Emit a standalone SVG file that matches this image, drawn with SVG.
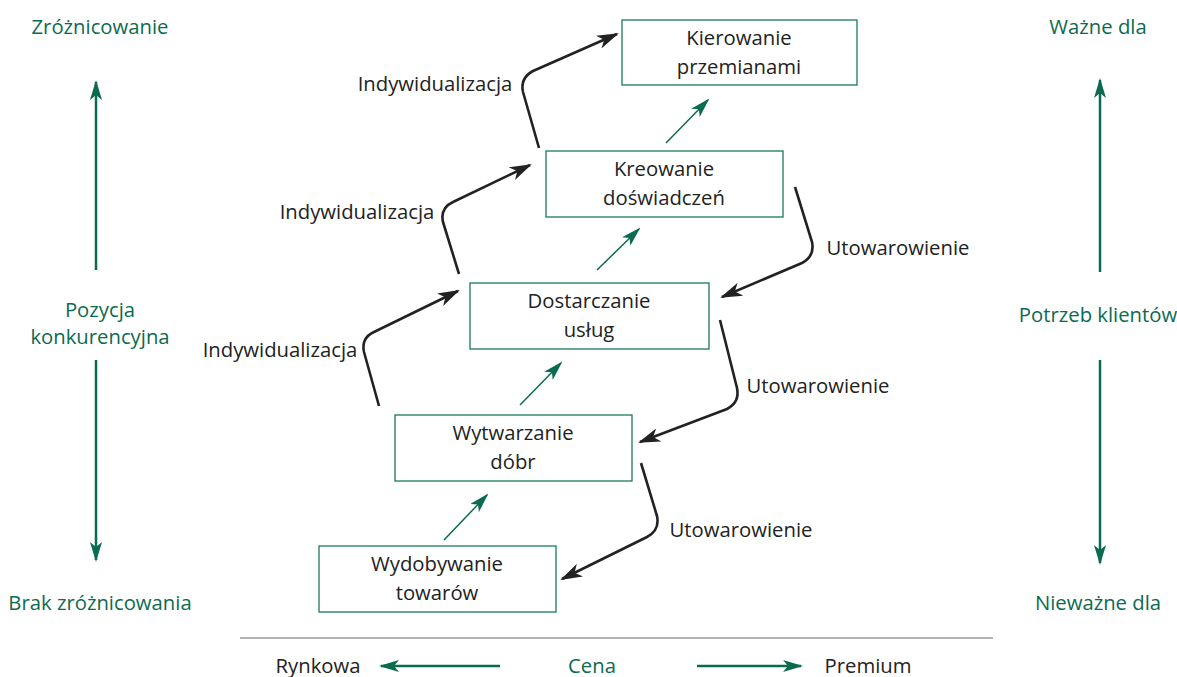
<svg xmlns="http://www.w3.org/2000/svg" width="1177" height="677" viewBox="0 0 1177 677">
<style>
text{font-family:"Open Sans","Liberation Sans",sans-serif;font-size:20.3px;text-anchor:middle;fill:#222}
.g{fill:#0b6b51}
.box{fill:#fff;stroke:#1a7a60;stroke-width:1.3}
.gl{stroke:#0b6b51;stroke-width:2.5;fill:none}
.gs{stroke:#0b6b51;stroke-width:1.5;fill:none}
.bl{stroke:#222;stroke-width:2.6;fill:none;stroke-linejoin:round}
</style>
<defs>
<marker id="ga" viewBox="0 0 20 12" refX="18" refY="6" markerWidth="20" markerHeight="12" markerUnits="userSpaceOnUse" orient="auto">
<path d="M0,0 L20,6 L0,12 L5,6 Z" fill="#0b6b51"/>
</marker>
<marker id="ba" viewBox="0 0 22 14" refX="20" refY="7" markerWidth="22" markerHeight="14" markerUnits="userSpaceOnUse" orient="auto">
<path d="M0,0 L22,7 L0,14 L6,7 Z" fill="#222"/>
</marker>
</defs>
<rect width="1177" height="677" fill="#fff"/>

<g id="connectors">
<path class="gs" d="M666,143 L708,100" marker-end="url(#ga)"/>
<path class="gs" d="M597,270 L639,229" marker-end="url(#ga)"/>
<path class="gs" d="M520,405 L561,363" marker-end="url(#ga)"/>
<path class="gs" d="M444,540 L487,495" marker-end="url(#ga)"/>
<path class="bl" d="M379,406 L364,352 Q361,338 374,332 L458,291" marker-end="url(#ba)"/>
<path class="bl" d="M459,274 L443,222 Q440,208 453,202 L530,165" marker-end="url(#ba)"/>
<path class="bl" d="M539,148 L523,92 Q520,78 533,71 L617,34" marker-end="url(#ba)"/>
<path class="bl" d="M795,187 L812,242 Q815,256 802,263 L722,297" marker-end="url(#ba)"/>
<path class="bl" d="M720,320 L737,388 Q740,402 727,409 L640,442" marker-end="url(#ba)"/>
<path class="bl" d="M641,463 L657,516 Q660,530 647,537 L562,579" marker-end="url(#ba)"/>
</g>

<g id="n1"><rect class="box" x="622" y="20" width="235" height="65"/><text x="739" y="45">Kierowanie</text><text x="739" y="74">przemianami</text></g>
<g id="n2"><rect class="box" x="546" y="151" width="237" height="66"/><text x="664" y="176">Kreowanie</text><text x="664" y="205">doświadczeń</text></g>
<g id="n3"><rect class="box" x="470" y="283" width="239" height="66"/><text x="589" y="308">Dostarczanie</text><text x="589" y="337">usług</text></g>
<g id="n4"><rect class="box" x="395" y="415" width="237" height="66"/><text x="513" y="440">Wytwarzanie</text><text x="513" y="469">dóbr</text></g>
<g id="n5"><rect class="box" x="319" y="546" width="237" height="66"/><text x="437" y="571">Wydobywanie</text><text x="437" y="600">towarów</text></g>

<g id="labels">
<text x="435" y="91">Indywidualizacja</text>
<text x="357" y="219">Indywidualizacja</text>
<text x="280" y="357">Indywidualizacja</text>
<text x="898" y="255">Utowarowienie</text>
<text x="818" y="393">Utowarowienie</text>
<text x="741" y="537">Utowarowienie</text>
</g>

<g id="left-axis">
<text class="g" x="100" y="34">Zróżnicowanie</text>
<path class="gl" d="M96,270 L96,82" marker-end="url(#ga)"/>
<text class="g" x="100" y="317">Pozycja</text>
<text class="g" x="100" y="344">konkurencyjna</text>
<path class="gl" d="M96,360 L96,560" marker-end="url(#ga)"/>
<text class="g" x="100" y="610">Brak zróżnicowania</text>
</g>

<g id="right-axis">
<text class="g" x="1098" y="34">Ważne dla</text>
<path class="gl" d="M1100,272 L1100,80" marker-end="url(#ga)"/>
<text class="g" x="1098" y="322">Potrzeb klientów</text>
<path class="gl" d="M1100,360 L1100,563" marker-end="url(#ga)"/>
<text class="g" x="1098" y="610">Nieważne dla</text>
</g>

<g id="price-axis">
<line x1="240" y1="638" x2="993" y2="638" stroke="#999" stroke-width="1.5"/>
<text x="318" y="673">Rynkowa</text>
<path class="gl" d="M500,666 L381,666" marker-end="url(#ga)"/>
<text class="g" x="592" y="673">Cena</text>
<path class="gl" d="M697,666 L801,666" marker-end="url(#ga)"/>
<text x="868" y="673">Premium</text>
</g>
</svg>
